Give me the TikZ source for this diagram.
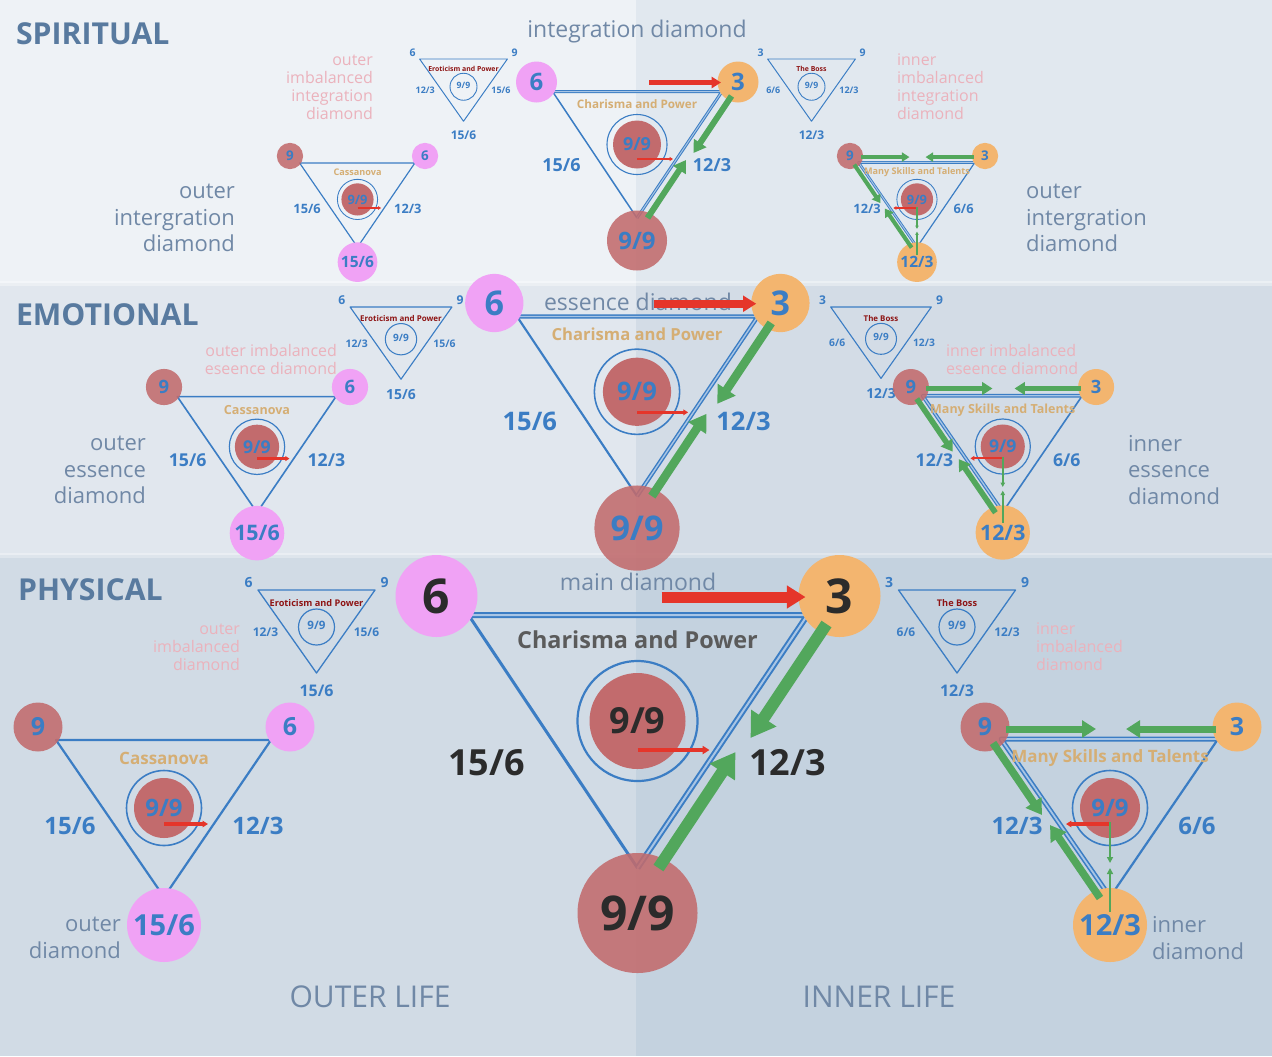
\documentclass[tikz,border=0pt]{standalone}
\usepackage{fontspec}
\setmainfont{Open Sans}
\usetikzlibrary{arrows.meta}

\definecolor{lineblue}{HTML}{3B7DC4}
\definecolor{dbllight}{HTML}{A8C5E5}
\definecolor{vred}{HTML}{C26B6D}
\definecolor{vpink}{HTML}{F0A2F5}
\definecolor{vorange}{HTML}{F3B56F}
\definecolor{arrgreen}{HTML}{52A75C}
\definecolor{arrred}{HTML}{E5352A}
\definecolor{titletan}{HTML}{D5AE74}
\definecolor{darknum}{HTML}{2B2B2B}
\definecolor{charisgray}{HTML}{5B5B5B}
\definecolor{labelgray}{HTML}{7088A6}
\definecolor{labelpink}{HTML}{EBB2BC}
\definecolor{bossred}{HTML}{8E1414}
\definecolor{levelblue}{HTML}{587A9F}
\definecolor{spiritL}{HTML}{EEF2F6}
\definecolor{spiritR}{HTML}{E1E8EF}
\definecolor{emoL}{HTML}{E1E7EE}
\definecolor{emoR}{HTML}{D3DCE6}
\definecolor{physL}{HTML}{D1DBE5}
\definecolor{physR}{HTML}{C4D2DF}

\newcommand{\setfs}[1]{\fontsize{#1}{#1}\selectfont}

\tikzset{
  vertex/.style={circle, inner sep=0pt, text=lineblue},
  ringline/.style={circle, draw=lineblue, inner sep=0pt},
  blueedge/.style={draw=lineblue, line join=round},
  dbledge/.style={draw=lineblue, double=dbllight, line join=round},
  redarrow/.style={draw=arrred, -{Triangle[length=0pt 1.7, width=0pt 2]}},
  greenarrow/.style={draw=arrgreen, -{Triangle[length=0pt 2, width=0pt 2.4]}},
  thingreen/.style={draw=arrgreen, -{Triangle[length=0pt 3, width=0pt 3]}},
  greylabel/.style={text=labelgray, font=\fontsize{11}{13.3}\selectfont},
  pinklabel/.style={text=labelpink, font=\fontsize{8}{9}\selectfont},
}

% centre diamond: x, y, scale, name, number colour, title colour
\newcommand{\centrediamond}[6]{%
  \begin{scope}[shift={(#1,#2)}, scale=#3, transform shape]
    \coordinate (#4-tl) at (-169,19);
    \coordinate (#4-tr) at (170,19);
    \coordinate (#4-bt) at (0,272);
    \draw[blueedge, line width=#3*1.5pt] (#4-tl) -- (#4-bt);
    \draw[dbledge, line width=#3*1pt, double distance=#3*1pt] (#4-tl) -- (#4-tr) -- (#4-bt);
    \node[vertex, fill=vred, fill opacity=.88, text opacity=1, minimum size=60pt,
      text=#5, font=\bfseries\setfs{24}] (#4-sum) at (0,317) {9/9};
    \node[vertex, fill=vpink, minimum size=41pt, text=#5, font=\bfseries\setfs{24}] (#4-six) at (-201,0) {6};
    \node[vertex, fill=vorange, minimum size=41pt, text=#5, font=\bfseries\setfs{24}] (#4-three) at (202,0) {3};
    \node[text=#6, font=\bfseries\setfs{11.7}] (#4-title) at (0,44) {Charisma and Power};
    \node[ringline, minimum size=60pt, line width=#3*1.1pt] (#4-ring) at (0,125) {};
    \node[vertex, fill=vred, minimum size=48pt, text=#5, font=\bfseries\setfs{18}] (#4-core) at (0,125) {9/9};
    \node[text=#5, font=\bfseries\setfs{18}] (#4-left) at (-151,167) {15/6};
    \node[text=#5, font=\bfseries\setfs{18}] (#4-right) at (150,167) {12/3};
    %–– frecce ––
    \coordinate (#4-rs) at (24,1);
    \coordinate (#4-re) at (168,1);
    \draw[redarrow, line width=#3*5.5pt] (#4-rs) -- (#4-re);
    \coordinate (#4-cs) at (0,154);
    \coordinate (#4-ce) at (72,154);
    \draw[redarrow, line width=#3*2pt] (#4-cs) -- (#4-ce);
    \coordinate (#4-g1) at (189,28);
    \coordinate (#4-g2) at (113,142);
    \draw[greenarrow, line width=#3*6pt] (#4-g1) -- (#4-g2);
    \coordinate (#4-g3) at (21,272);
    \coordinate (#4-g4) at (98,156);
    \draw[greenarrow, line width=#3*6pt] (#4-g3) -- (#4-g4);
  \end{scope}}

% outer diamond: x, y, scale, name
\newcommand{\outerdiamond}[4]{%
  \begin{scope}[shift={(#1,#2)}, scale=#3, transform shape]
    \coordinate (#4-tl) at (-108,13);
    \coordinate (#4-tr) at (107,13);
    \coordinate (#4-bt) at (0,170);
    \draw[blueedge, line width=#3*1.1pt] (#4-tl) -- (#4-tr) -- (#4-bt) -- cycle;
    \node[vertex, fill=vred, fill opacity=.88, text opacity=1, minimum size=24.5pt,
      font=\bfseries\setfs{12.5}] (#4-nine) at (-126,0) {9};
    \node[vertex, fill=vpink, minimum size=24.5pt, font=\bfseries\setfs{12.5}] (#4-six) at (126,0) {6};
    \node[vertex, fill=vpink, minimum size=37pt, font=\bfseries\setfs{14.5}] (#4-bot) at (0,198) {15/6};
    \node[text=titletan, font=\bfseries\setfs{8.5}] (#4-title) at (0,31) {Cassanova};
    \node[ringline, minimum size=37.5pt, line width=#3*0.8pt] (#4-ring) at (0,81) {};
    \node[vertex, fill=vred, minimum size=30pt, font=\bfseries\setfs{12}] (#4-core) at (0,81) {9/9};
    \node[text=lineblue, font=\bfseries\setfs{12}] (#4-left) at (-94,99) {15/6};
    \node[text=lineblue, font=\bfseries\setfs{12}] (#4-right) at (94,99) {12/3};
    \coordinate (#4-rs) at (0,97);
    \coordinate (#4-re) at (44,97);
    \draw[redarrow, line width=#3*1.6pt] (#4-rs) -- (#4-re);
  \end{scope}}

% inner diamond: x, y, scale, name
\newcommand{\innerdiamond}[4]{%
  \begin{scope}[shift={(#1,#2)}, scale=#3, transform shape]
    \coordinate (#4-tl) at (-110,12);
    \coordinate (#4-tr) at (107,12);
    \coordinate (#4-bt) at (-1,170);
    \draw[blueedge, line width=#3*1.1pt] (#4-tr) -- (#4-bt);
    \draw[dbledge, line width=#3*0.8pt, double distance=#3*0.9pt] (#4-bt) -- (#4-tl) -- (#4-tr);
    \node[vertex, fill=vred, fill opacity=.88, text opacity=1, minimum size=24.5pt,
      font=\bfseries\setfs{12.5}] (#4-nine) at (-126,0) {9};
    \node[vertex, fill=vorange, minimum size=24.5pt, font=\bfseries\setfs{12.5}] (#4-three) at (126,0) {3};
    \node[vertex, fill=vorange, minimum size=37pt, font=\bfseries\setfs{14.5}] (#4-bot) at (-1,198) {12/3};
    \node[text=titletan, font=\bfseries\setfs{8.5}] (#4-title) at (-1,31) {Many Skills and Talents};
    \node[ringline, minimum size=37.5pt, line width=#3*0.8pt] (#4-ring) at (-1,81) {};
    \node[vertex, fill=vred, minimum size=30pt, font=\bfseries\setfs{12}] (#4-core) at (-1,81) {9/9};
    \node[text=lineblue, font=\bfseries\setfs{12}] (#4-left) at (-94,99) {12/3};
    \node[text=lineblue, font=\bfseries\setfs{12}] (#4-right) at (86,99) {6/6};
    %–– frecce ––
    \coordinate (#4-rs) at (-1,97);
    \coordinate (#4-re) at (-45,97);
    \draw[redarrow, line width=#3*1.6pt] (#4-rs) -- (#4-re);
    \coordinate (#4-v1) at (-1,95);
    \coordinate (#4-v2) at (-1,136);
    \coordinate (#4-v3) at (-1,185);
    \coordinate (#4-v4) at (-1,141);
    \draw[thingreen, line width=#3*1pt] (#4-v1) -- (#4-v2);
    \draw[thingreen, line width=#3*1pt] (#4-v3) -- (#4-v4);
    \coordinate (#4-h1) at (-105,2);
    \coordinate (#4-h2) at (-15,2);
    \coordinate (#4-h3) at (105,2);
    \coordinate (#4-h4) at (15,2);
    \draw[greenarrow, line width=#3*3.5pt] (#4-h1) -- (#4-h2);
    \draw[greenarrow, line width=#3*3.5pt] (#4-h3) -- (#4-h4);
    \coordinate (#4-d1) at (-118,16);
    \coordinate (#4-d2) at (-69,88);
    \coordinate (#4-d3) at (-11,171);
    \coordinate (#4-d4) at (-61,98);
    \draw[greenarrow, line width=#3*3.8pt] (#4-d1) -- (#4-d2);
    \draw[greenarrow, line width=#3*3.8pt] (#4-d3) -- (#4-d4);
  \end{scope}}

% imbalanced triangle: x, y, scale, name, top left, top right, title, left side, right side
\newcommand{\imbtriangle}[9]{%
  \begin{scope}[shift={(#1,#2)}, scale=#3, transform shape]
    \coordinate (#4-tl) at (-58.5,0);
    \coordinate (#4-tr) at (58.5,0);
    \coordinate (#4-bt) at (0,83);
    \draw[blueedge, line width=#3*0.65pt] (#4-tl) -- (#4-tr) -- (#4-bt) -- cycle;
    \node[text=lineblue, font=\bfseries\setfs{7}] (#4-ltop) at (-68,-8) {#5};
    \node[text=lineblue, font=\bfseries\setfs{7}] (#4-rtop) at (68,-8) {#6};
    \node[text=bossred, font=\bfseries\setfs{4.6}] (#4-title) at (0,13) {#7};
    \node[ringline, minimum size=18pt, line width=#3*0.6pt] (#4-ring) at (0,37) {};
    \node[text=lineblue, font=\bfseries\setfs{5.8}] (#4-core) at (0,35) {9/9};
    \node[text=lineblue, font=\bfseries\setfs{6}] (#4-left) at (-51,42) {#8};
    \node[text=lineblue, font=\bfseries\setfs{6}] (#4-right) at (50,42) {#9};
    \node[text=lineblue, font=\bfseries\setfs{8}] (#4-bot) at (0,101) {#9};
  \end{scope}}

\begin{document}
\begin{tikzpicture}[x=0.5pt, y=-0.5pt]
  \useasboundingbox (0,0) rectangle (1272,1056);
  %–– Fasce ––
  \fill[spiritL] (0,0) rectangle (636,283);
  \fill[spiritR] (636,0) rectangle (1272,283);
  \fill[emoL] (0,283) rectangle (636,555);
  \fill[emoR] (636,283) rectangle (1272,555);
  \fill[physL] (0,555) rectangle (636,1056);
  \fill[physR] (636,555) rectangle (1272,1056);
  \fill[white, opacity=.35] (0,281) rectangle (1272,286);
  \fill[white, opacity=.3] (0,553) rectangle (1272,558);

  %–– Livelli ––
  \node[anchor=west, text=levelblue, font=\bfseries\setfs{15.1}] (spiritual) at (9,34) {SPIRITUAL};
  \node[anchor=west, text=levelblue, font=\bfseries\setfs{15.1}] (emotional) at (9,315) {EMOTIONAL};
  \node[anchor=west, text=levelblue, font=\bfseries\setfs{15.1}] (physical) at (11,590) {PHYSICAL};
  \node[text=labelgray, font=\setfs{15}] (outerlife) at (370,997) {OUTER LIFE};
  \node[text=labelgray, font=\setfs{15}] (innerlife) at (879,997) {INNER LIFE};

  %–– Etichette ––
  \node[greylabel, font=\setfs{11.5}] (integlbl) at (637,32) {integration diamond};
  \node[greylabel, font=\setfs{11.5}] (esslbl) at (638,302) {essence diamond};
  \node[greylabel, font=\setfs{11.5}] (mainlbl) at (638,582) {main diamond};
  \node[greylabel, anchor=east, align=right] (outspirlbl) at (242,218) {outer\\intergration\\diamond};
  \node[greylabel, anchor=west, align=left] (inspirlbl) at (1019,218) {outer\\intergration\\diamond};
  \node[greylabel, anchor=east, align=right] (outemolbl) at (153,470) {outer\\essence\\diamond};
  \node[greylabel, anchor=west, align=left] (inemolbl) at (1121,470) {inner\\essence\\diamond};
  \node[greylabel, anchor=east, align=right] (outphyslbl) at (128,938) {outer\\diamond};
  \node[greylabel, anchor=west, align=left] (inphyslbl) at (1145,938) {inner\\diamond};
  \node[pinklabel, anchor=east, align=right] (imbspirLlbl) at (380,87) {outer\\imbalanced\\integration\\diamond};
  \node[pinklabel, anchor=west, align=left] (imbspirRlbl) at (890,87) {inner\\imbalanced\\integration\\diamond};
  \node[pinklabel, anchor=east, align=right] (imbemoLlbl) at (344,359) {outer imbalanced\\eseence diamond};
  \node[pinklabel, anchor=west, align=left] (imbemoRlbl) at (939,359) {inner imbalanced\\eseence diamond};
  \node[pinklabel, anchor=east, align=right] (imbphysLlbl) at (247,647) {outer\\imbalanced\\diamond};
  \node[pinklabel, anchor=west, align=left] (imbphysRlbl) at (1029,647) {inner\\imbalanced\\diamond};

  %–– Diamanti ––
  \imbtriangle{463.5}{59}{0.75}{imbspirL}{6}{9}{Eroticism and Power}{12/3}{15/6}
  \imbtriangle{811.5}{59}{0.75}{imbspirR}{3}{9}{The Boss}{6/6}{12/3}
  \imbtriangle{401}{307}{0.87}{imbemoL}{6}{9}{Eroticism and Power}{12/3}{15/6}
  \imbtriangle{881}{307}{0.86}{imbemoR}{3}{9}{The Boss}{6/6}{12/3}
  \imbtriangle{316.5}{590}{1}{imbphysL}{6}{9}{Eroticism and Power}{12/3}{15/6}
  \imbtriangle{957}{590}{1}{imbphysR}{3}{9}{The Boss}{6/6}{12/3}

  \outerdiamond{357.5}{156}{0.536}{outspir}
  \outerdiamond{257}{387}{0.738}{outemo}
  \outerdiamond{164}{727}{1}{outphys}

  \innerdiamond{917.5}{156}{0.536}{inspir}
  \innerdiamond{1003.5}{387}{0.735}{inemo}
  \innerdiamond{1111}{727}{1}{inphys}

  \centrediamond{637}{82}{0.5}{integ}{lineblue}{titletan}
  \centrediamond{637}{303}{0.71}{ess}{lineblue}{titletan}
  \centrediamond{637.5}{596}{1}{main}{darknum}{charisgray}
\end{tikzpicture}
\end{document}
